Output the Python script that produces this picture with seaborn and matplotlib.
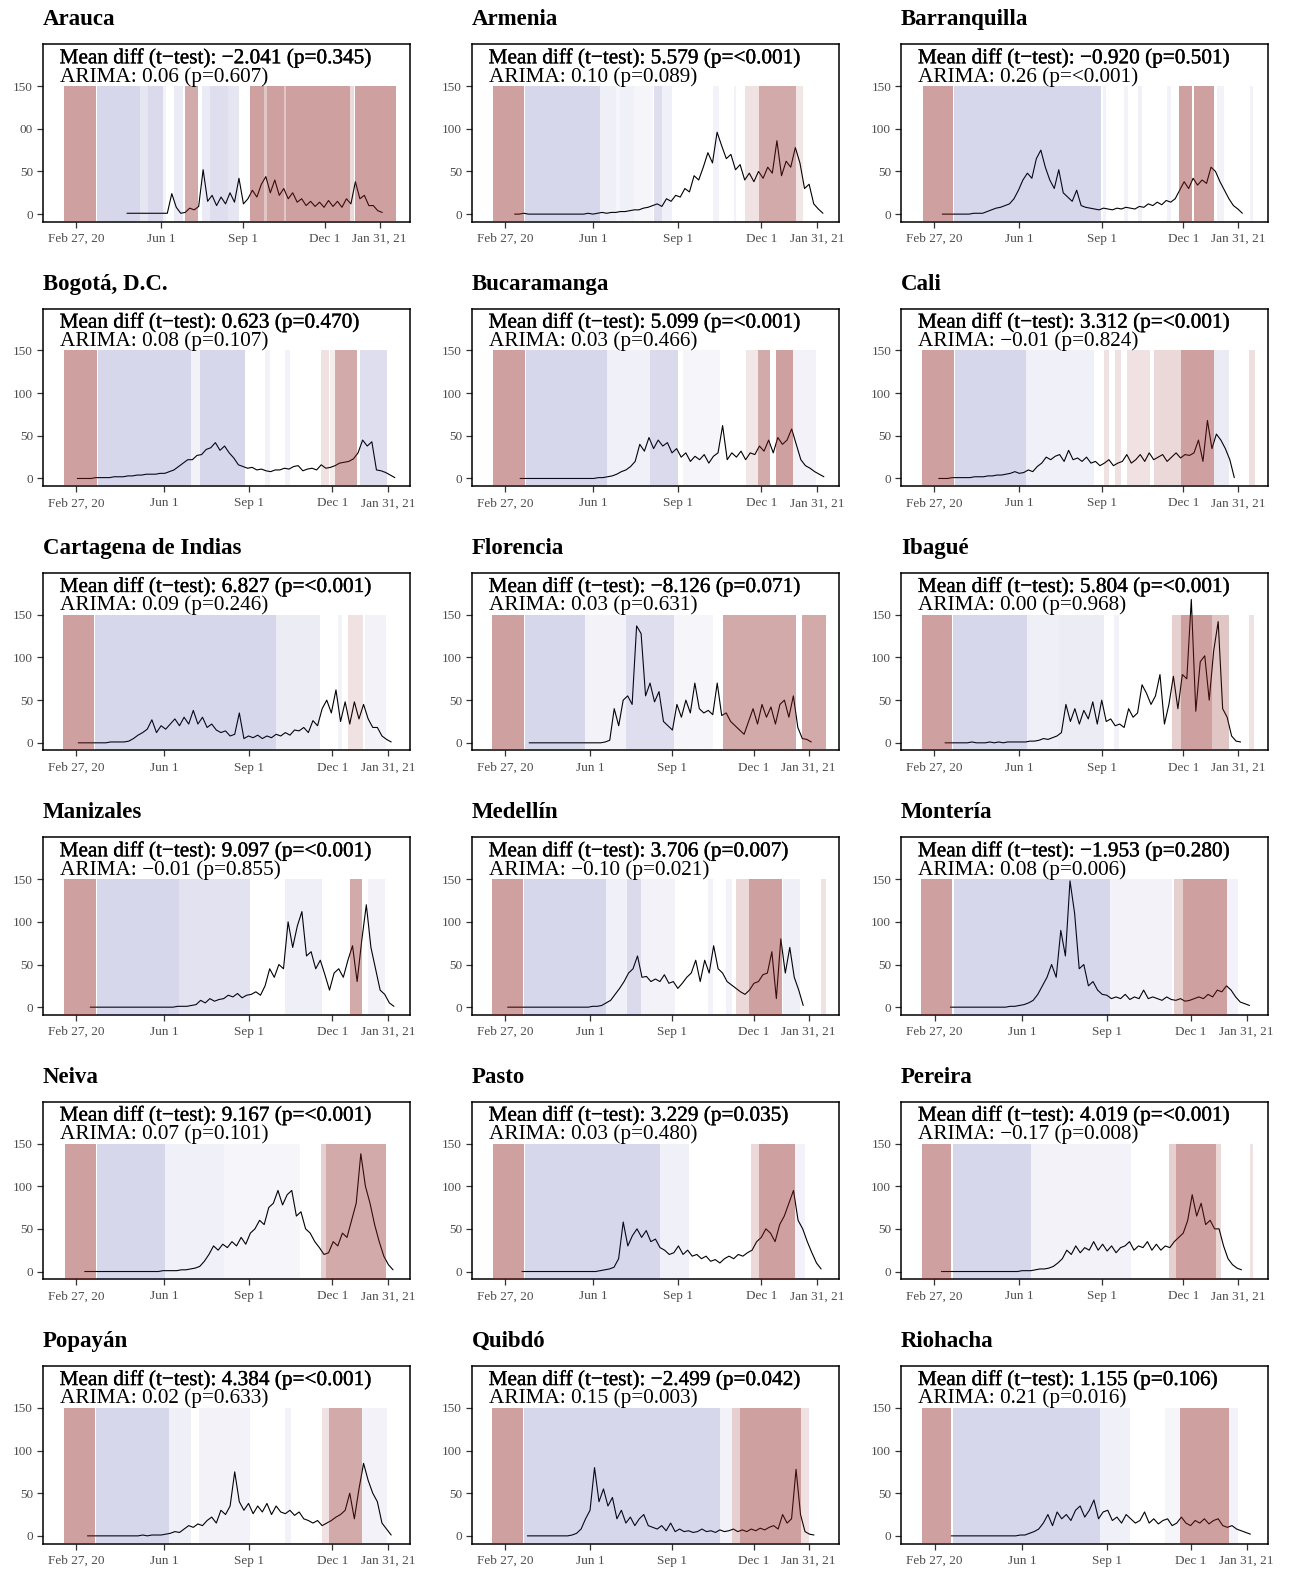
import numpy as np
import pandas as pd
import seaborn as sns
import matplotlib.pyplot as plt
import matplotlib.patheffects as pe

# days counted from Feb 27, 2020; series sampled every 5 days
cities = ["Arauca", "Armenia", "Barranquilla", "Bogotá, D.C.", "Bucaramanga", "Cali",
          "Cartagena de Indias", "Florencia", "Ibagué", "Manizales", "Medellín", "Montería",
          "Neiva", "Pasto", "Pereira", "Popayán", "Quibdó", "Riohacha"]
mean_diff = [-2.041, 5.579, -0.920, 0.623, 5.099, 3.312, 6.827, -8.126, 5.804,
             9.097, 3.706, -1.953, 9.167, 3.229, 4.019, 4.384, -2.499, 1.155]
mean_p = ["0.345", "<0.001", "0.501", "0.470", "<0.001", "<0.001", "<0.001", "0.071", "<0.001",
          "<0.001", "0.007", "0.280", "<0.001", "0.035", "<0.001", "<0.001", "0.042", "0.106"]
arima = [0.06, 0.10, 0.26, 0.08, 0.03, -0.01, 0.09, 0.03, 0.00,
         -0.01, -0.10, 0.08, 0.07, 0.03, -0.17, 0.02, 0.15, 0.21]
arima_p = ["0.607", "0.089", "<0.001", "0.107", "0.466", "0.824", "0.246", "0.631", "0.968",
           "0.855", "0.021", "0.006", "0.101", "0.480", "0.008", "0.633", "0.003", "0.016"]

start_day = [57, 10, 9, 1, 16, 5, 2, 27, 12, 15, 3, 17, 9, 18, 8, 12, 25, 18]
x_end = [354, 344, 354, 344, 344, 354, 344, 354, 354, 344, 354, 344, 344, 344, 354, 344, 354, 344]

arauca = [1, 1, 1, 1, 1, 1, 1, 1, 1, 1, 24, 8, 1, 2, 7, 5, 9, 52, 15, 22, 10, 20, 12, 25, 14, 42,
          12, 18, 28, 20, 35, 44, 25, 40, 22, 30, 18, 25, 14, 18, 10, 15, 9, 14, 8, 16, 9, 15, 8,
          18, 12, 38, 18, 22, 10, 10, 4, 2]
armenia = [0, 0, 1, 0, 0, 0, 0, 0, 0, 0, 0, 0, 0, 0, 0, 0, 1, 0, 1, 2, 1, 2, 2, 3, 3, 4, 5, 5, 7,
           8, 10, 12, 9, 18, 15, 22, 20, 30, 26, 45, 40, 55, 72, 60, 96, 80, 65, 70, 52, 58, 40, 48,
           38, 50, 42, 55, 48, 86, 45, 62, 55, 78, 60, 30, 35, 12, 6, 1]
barranquilla = [0, 0, 0, 0, 0, 0, 0, 1, 1, 1, 3, 5, 7, 8, 10, 12, 18, 28, 40, 48, 42, 65, 75, 55,
                40, 30, 52, 25, 20, 15, 28, 10, 8, 7, 6, 5, 7, 6, 5, 7, 6, 8, 7, 6, 9, 8, 12, 10,
                14, 11, 16, 14, 18, 28, 38, 30, 42, 34, 40, 36, 55, 50, 38, 28, 18, 10, 6, 1]
bogota = [0, 0, 0, 0, 1, 1, 1, 1, 2, 2, 2, 3, 3, 4, 4, 5, 5, 5, 6, 6, 8, 10, 14, 18, 22, 22, 27,
          28, 34, 36, 42, 33, 38, 30, 24, 16, 14, 12, 13, 10, 11, 9, 8, 10, 10, 12, 11, 14, 15, 9,
          11, 12, 10, 16, 12, 13, 15, 18, 19, 20, 23, 30, 45, 38, 43, 10, 9, 7, 4, 1]
bucaramanga = [0, 0, 0, 0, 0, 0, 0, 0, 0, 0, 0, 0, 0, 0, 0, 0, 0, 1, 1, 2, 3, 5, 8, 10, 14, 20,
               40, 32, 48, 35, 45, 38, 42, 30, 35, 25, 30, 20, 26, 22, 28, 18, 26, 30, 62, 22, 30,
               25, 32, 22, 30, 28, 38, 32, 45, 30, 48, 40, 45, 58, 40, 22, 15, 12, 8, 5, 2]
cali = [0, 0, 0, 1, 1, 1, 1, 1, 2, 2, 2, 3, 3, 4, 4, 5, 6, 8, 6, 7, 10, 8, 14, 18, 25, 22, 26, 28,
        20, 33, 22, 24, 20, 25, 18, 20, 15, 18, 22, 15, 18, 20, 28, 18, 22, 28, 20, 30, 22, 25,
        28, 20, 25, 30, 24, 28, 27, 30, 45, 20, 68, 35, 52, 45, 35, 22, 1]
cartagena = [0, 0, 0, 0, 0, 0, 0, 1, 1, 1, 1, 2, 5, 9, 12, 16, 27, 12, 20, 16, 22, 28, 20, 30, 22,
             38, 22, 30, 18, 22, 15, 12, 14, 8, 10, 35, 5, 8, 6, 9, 5, 8, 6, 10, 8, 12, 9, 15, 14,
             18, 12, 26, 20, 40, 50, 35, 62, 25, 48, 22, 48, 28, 45, 28, 18, 18, 8, 4, 1]
florencia = [0, 0, 0, 0, 0, 0, 0, 0, 0, 0, 0, 0, 0, 0, 0, 0, 0, 1, 3, 40, 20, 50, 55, 45, 137,
             128, 55, 70, 48, 60, 25, 20, 15, 45, 30, 50, 35, 70, 40, 35, 38, 33, 70, 32, 35, 25,
             20, 15, 10, 25, 40, 22, 45, 30, 42, 22, 45, 50, 30, 55, 18, 5, 4, 1]
ibague = [0, 0, 0, 0, 0, 0, 1, 0, 0, 0, 1, 0, 1, 0, 1, 1, 1, 1, 1, 2, 2, 3, 5, 4, 6, 8, 12, 45,
          25, 40, 22, 38, 28, 48, 22, 50, 25, 28, 20, 22, 18, 40, 30, 35, 68, 58, 45, 55, 80, 22,
          45, 78, 40, 80, 75, 168, 37, 95, 102, 50, 108, 142, 40, 30, 8, 2, 1]
manizales = [0, 0, 0, 0, 0, 0, 0, 0, 0, 0, 0, 0, 0, 0, 0, 0, 0, 0, 0, 1, 1, 1, 2, 3, 8, 5, 10, 7,
             9, 10, 14, 12, 16, 11, 14, 15, 18, 14, 25, 45, 35, 50, 45, 100, 70, 95, 112, 60, 65,
             45, 55, 38, 20, 40, 45, 35, 55, 72, 30, 78, 120, 70, 45, 20, 15, 5, 1]
medellin = [0, 0, 0, 0, 0, 0, 0, 0, 0, 0, 0, 0, 0, 0, 0, 0, 0, 0, 0, 1, 1, 2, 5, 8, 15, 22, 30, 40,
            45, 60, 35, 36, 30, 33, 30, 38, 28, 30, 22, 28, 35, 40, 55, 30, 55, 40, 72, 45, 40, 30,
            26, 22, 18, 15, 20, 28, 30, 38, 40, 65, 10, 80, 40, 70, 35, 20, 2]
monteria = [0, 0, 0, 0, 0, 0, 0, 0, 0, 0, 0, 0, 0, 1, 1, 2, 3, 5, 8, 15, 25, 35, 50, 35, 90, 60,
            148, 110, 45, 50, 25, 30, 20, 15, 14, 10, 12, 10, 15, 9, 12, 10, 20, 10, 12, 10, 8, 12,
            9, 8, 10, 7, 8, 10, 12, 10, 15, 12, 20, 18, 25, 20, 12, 6, 4, 2]
neiva = [0, 0, 0, 0, 0, 0, 0, 0, 0, 0, 0, 0, 0, 0, 0, 0, 0, 1, 1, 1, 1, 2, 2, 3, 4, 6, 12, 20, 30,
         25, 32, 28, 35, 30, 40, 32, 45, 50, 60, 55, 75, 80, 95, 78, 90, 95, 65, 70, 50, 45, 35,
         28, 20, 22, 35, 30, 45, 40, 60, 80, 138, 100, 80, 55, 35, 18, 8, 2]
pasto = [0, 0, 0, 0, 0, 0, 0, 0, 0, 0, 0, 0, 0, 0, 0, 0, 0, 1, 2, 3, 5, 15, 58, 30, 42, 50, 40, 48,
         35, 38, 28, 25, 20, 22, 30, 20, 25, 18, 20, 15, 18, 12, 14, 10, 15, 18, 15, 20, 18, 22,
         25, 35, 40, 50, 45, 35, 55, 65, 80, 95, 60, 50, 35, 22, 10, 3]
pereira = [0, 0, 0, 0, 0, 0, 0, 0, 0, 0, 0, 0, 0, 0, 0, 0, 0, 0, 1, 1, 1, 2, 3, 3, 4, 6, 10, 15, 25,
           20, 30, 22, 28, 25, 35, 25, 32, 24, 30, 22, 28, 30, 35, 25, 30, 28, 35, 25, 32, 25, 30,
           28, 35, 40, 45, 60, 90, 65, 80, 55, 60, 50, 50, 30, 15, 8, 4, 2]
popayan = [0, 0, 0, 0, 0, 0, 0, 0, 0, 0, 0, 0, 1, 0, 1, 1, 1, 2, 3, 5, 4, 8, 12, 10, 14, 12, 18,
           22, 15, 30, 25, 35, 75, 40, 30, 38, 26, 35, 28, 38, 25, 35, 28, 26, 30, 24, 28, 20, 18,
           15, 18, 12, 15, 18, 22, 25, 30, 50, 20, 55, 85, 65, 50, 40, 15, 8, 1]
quibdo = [0, 0, 0, 0, 0, 0, 0, 0, 0, 0, 1, 3, 8, 20, 30, 80, 40, 55, 35, 45, 20, 30, 15, 22, 12,
          20, 25, 12, 10, 8, 12, 6, 15, 5, 8, 5, 6, 4, 5, 8, 5, 6, 4, 7, 5, 6, 8, 5, 7, 5, 8, 6, 9,
          7, 10, 12, 8, 25, 15, 20, 78, 25, 5, 2, 1]
riohacha = [0, 0, 0, 0, 0, 0, 0, 0, 0, 0, 0, 0, 0, 0, 0, 1, 1, 3, 5, 8, 15, 25, 12, 28, 20, 25, 18,
            30, 35, 22, 30, 42, 20, 28, 30, 18, 22, 15, 25, 20, 15, 18, 28, 15, 20, 14, 18, 20, 12,
            15, 22, 15, 12, 18, 15, 20, 14, 18, 20, 12, 10, 12, 8, 6, 4, 2]
series = [arauca, armenia, barranquilla, bogota, bucaramanga, cali, cartagena, florencia, ibague,
          manizales, medellin, monteria, neiva, pasto, pereira, popayan, quibdo, riohacha]

# background periods: (start day, end day, strength); >0 red, <0 blue
arauca_bands = [(-13, 22, 1), (23, 72, -1), (72, 80, -0.6), (80, 97, -0.9), (97, 100, -0.3),
                (110, 119, -0.5), (122, 136, 0.9), (141, 150, -0.5), (150, 170, -0.8),
                (170, 182, -0.6), (194, 210, 1), (210, 213, 0.6), (213, 232, 1), (232, 234, 0.6),
                (234, 306, 1), (306, 310, 0.4), (311, 357, 1)]
armenia_bands = [(-14, 20, 1), (21, 103, -1), (103, 120, -0.4), (120, 125, -0.2), (125, 140, -0.35),
                 (140, 160, -0.2), (161, 170, -0.8), (170, 181, -0.35), (226, 232, -0.3),
                 (248, 251, -0.3), (260, 275, 0.3), (275, 316, 0.9), (316, 323, 0.25)]
barranquilla_bands = [(-13, 21, 1), (22, 186, -1), (188, 192, -0.3), (212, 216, -0.3),
                      (227, 232, -0.35), (260, 264, -0.3), (273, 288, 1), (290, 312, 1),
                      (316, 323, -0.3), (352, 356, -0.3)]
bogota_bands = [(-13, 22, 1), (23, 124, -1), (124, 134, -0.3), (134, 183, -1), (205, 210, -0.3),
                (227, 232, -0.3), (266, 274, 0.3), (275, 281, 0.2), (281, 305, 0.9), (308, 337, -0.8)]
bucaramanga_bands = [(-13, 21, 1), (22, 110, -1), (110, 157, -0.35), (157, 187, -0.9),
                     (193, 233, -0.25), (261, 274, 0.25), (274, 288, 0.9), (294, 312, 1),
                     (312, 337, -0.3)]
cali_bands = [(-14, 22, 1), (23, 102, -1), (102, 178, -0.35), (189, 195, 0.3), (202, 208, 0.3),
              (215, 241, 0.3), (245, 275, 0.4), (275, 312, 1), (312, 329, -0.5), (351, 358, 0.35)]
cartagena_bands = [(-15, 19, 1), (20, 217, -1), (217, 265, -0.45), (284, 289, -0.3),
                   (295, 311, 0.3), (314, 336, -0.3)]
florencia_bands = [(-14, 21, 1), (22, 89, -1), (89, 135, -0.3), (135, 189, -0.8), (189, 232, -0.25),
                   (243, 325, 0.9), (332, 358, 0.9)]
ibague_bands = [(-14, 20, 1), (21, 104, -1), (104, 139, -0.4), (139, 190, -0.45), (201, 206, -0.3),
                (266, 275, 0.5), (275, 310, 1), (310, 329, 0.6), (351, 357, 0.3)]
manizales_bands = [(-13, 21, 1), (22, 111, -1), (111, 189, -0.7), (227, 267, -0.4), (297, 310, 0.9),
                   (317, 335, -0.3)]
medellin_bands = [(-14, 20, 1), (21, 113, -1), (113, 136, -0.35), (136, 152, -0.9), (152, 190, -0.3),
                  (227, 232, -0.3), (247, 253, -0.3), (258, 273, 0.4), (273, 309, 1),
                  (310, 329, -0.4), (353, 359, 0.3)]
monteria_bands = [(-15, 19, 1), (21, 190, -1), (190, 258, -0.3), (260, 270, 0.5), (270, 318, 1),
                  (318, 330, -0.3)]
neiva_bands = [(-12, 21, 1), (22, 96, -1), (96, 160, -0.35), (160, 243, -0.25), (266, 271, 0.5),
               (271, 336, 0.9)]
pasto_bands = [(-14, 20, 1), (21, 168, -1), (168, 200, -0.35), (267, 275, 0.4), (275, 315, 1),
               (315, 325, -0.3)]
pereira_bands = [(-14, 19, 1), (21, 108, -1), (108, 220, -0.3), (262, 270, 0.5), (270, 315, 1),
                 (315, 320, 0.4), (352, 356, 0.3)]
popayan_bands = [(-14, 20, 1), (21, 101, -1), (101, 124, -0.4), (133, 189, -0.3), (227, 233, -0.3),
                 (267, 274, 0.3), (274, 310, 0.9), (310, 337, -0.3)]
quibdo_bands = [(-14, 20, 1), (21, 240, -1), (240, 254, -0.3), (254, 262, 0.5), (262, 330, 1),
                (330, 340, 0.3)]
riohacha_bands = [(-14, 18, 1), (20, 180, -1), (180, 212, -0.35), (250, 266, -0.25), (266, 320, 1),
                  (320, 330, -0.3)]
bands = [arauca_bands, armenia_bands, barranquilla_bands, bogota_bands, bucaramanga_bands,
         cali_bands, cartagena_bands, florencia_bands, ibague_bands, manizales_bands,
         medellin_bands, monteria_bands, neiva_bands, pasto_bands, pereira_bands, popayan_bands,
         quibdo_bands, riohacha_bands]

x_ticks = [0, 95, 187, 278, 339]
x_labels = ["Feb 27, 20", "Jun 1", "Sep 1", "Dec 1", "Jan 31, 21"]
y_ticks = [0, 50, 100, 150]

sns.set_theme(style="white")
plt.rcParams['font.family'] = ['Liberation Serif', 'DejaVu Serif']
plt.rcParams['axes.unicode_minus'] = True

RED, BLUE = '#8B1E1E', '#2B2B96'
W, H = 1289, 1570
col_left = [42.7, 471.7, 901.0]
aw, ah = 367.0, 177.5

fig = plt.figure(figsize=(W / 100, H / 100), dpi=100, facecolor='white')


def fmt(v, nd):
    return f"{v:.{nd}f}".replace('-', '\u2212')


for i, city in enumerate(cities):
    r, c = divmod(i, 3)
    left = col_left[c]
    top = 44.3 + 264.35 * r
    ax = fig.add_axes([left / W, 1 - (top + ah) / H, aw / W, ah / H])

    vals = series[i]
    df = pd.DataFrame({'day': start_day[i] + 5 * np.arange(len(vals)), 'value': vals})
    sns.lineplot(data=df, x='day', y='value', color='black', lw=0.8, ax=ax, zorder=2)

    for s, e, v in bands[i]:
        col = RED if v > 0 else BLUE
        a = abs(v) * (0.42 if v > 0 else 0.19)
        ax.bar(s, 159, width=e - s, bottom=-9, align='edge', color=col, alpha=a,
               linewidth=0, zorder=3)

    rng = x_end[i] + 18.5
    ax.set_xlim(-18.5 - 0.05 * rng, x_end[i] + 0.05 * rng)
    ax.set_ylim(-9, 199)
    ax.set_xticks(x_ticks, x_labels)
    ax.set_yticks(y_ticks, ['0', '50', '00', '150'] if i == 0 else ['0', '50', '100', '150'])
    ax.set_xlabel('')
    ax.set_ylabel('')
    ax.tick_params(bottom=True, left=True, direction='out', length=4.5, width=0.9,
                   color='#333333', labelcolor='#4D4D4D', labelsize=9.5, pad=2.5)
    ax.tick_params(axis='x', pad=3.5)
    for sp in ax.spines.values():
        sp.set_visible(True)
        sp.set_color('black')
        sp.set_linewidth(1.1)

    line1 = f"Mean diff (t\u2212test): {fmt(mean_diff[i], 3)} (p={mean_p[i]})"
    line2 = f"ARIMA: {fmt(arima[i], 2)} (p={arima_p[i]})"
    ax.text(0.046, 1 - 19 / ah, line1, transform=ax.transAxes, fontsize=15.3, va='baseline',
            color='black', zorder=5,
            path_effects=[pe.withStroke(linewidth=0.25, foreground='black')])
    ax.text(0.046, 1 - 37.4 / ah, line2, transform=ax.transAxes, fontsize=15.3, va='baseline',
            color='black', zorder=5)

    fig.text(left / W, 1 - (top - 19) / H, city, fontsize=16.5, fontweight='bold',
             va='baseline', ha='left', color='black')

fig.savefig('out.png', dpi=100, facecolor='white')
